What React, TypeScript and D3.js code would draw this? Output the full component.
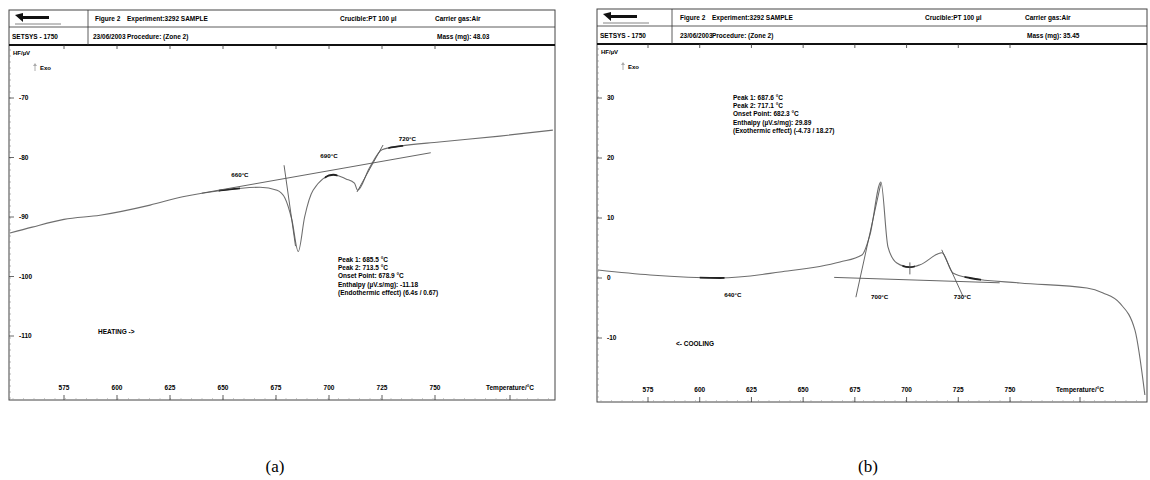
import React from "react";
import * as d3 from "d3";

// ---- Heating run (a) ----
const tempA = [549.5, 560, 575, 592, 615.6, 631, 650, 667.5, 675.5, 679.2, 682.5, 685.5, 688.5, 692.5, 702, 708, 712, 713.5, 719, 725, 733.5, 752, 780.6, 805.6];
const hfA = [-92.7, -91.7, -90.4, -89.7, -88.0, -86.6, -85.5, -85.0, -85.5, -86.8, -90.5, -95.8, -90.0, -85.5, -82.9, -83.6, -84.3, -85.5, -81.8, -78.7, -78.1, -77.4, -76.4, -75.4];
// tangent construction lines: [T1, HF1, T2, HF2]
const tangentsA = [
  [640, -86.0, 748, -79.2],
  [678.8, -81.3, 684.2, -94.9],
  [713.2, -85.8, 725.5, -77.9],
];
const eventLabelsA = [
  { text: "660°C", t: 658, hf: -83.3 },
  { text: "690°C", t: 700, hf: -80.0 },
  { text: "720°C", t: 737, hf: -77.2 },
];
const resultsA = [
  "Peak 1: 685.5 °C",
  "Peak 2: 713.5 °C",
  "Onset Point: 678.9 °C",
  "Enthalpy (µV.s/mg): -11.18",
  "(Endothermic effect) (6.4s / 0.67)",
];
const yTicksA = [-70, -80, -90, -100, -110];

// ---- Cooling run (b) ----
const tempB = [550.8, 576, 609.8, 638.8, 667.8, 678.4, 682.3, 687.6, 691, 695.3, 701.6, 706.5, 717.1, 722.4, 730.6, 754.8, 787.2, 795, 803.1, 810.4, 815.2];
const hfB = [1.33, 0.5, 0.0, 1.0, 2.67, 3.83, 7.2, 16.0, 5.2, 2.5, 1.8, 2.2, 4.2, 0.83, 0.0, -0.83, -1.67, -2.5, -4.2, -8.7, -19.5];
const tangentsB = [
  [665, 0.1, 745, -0.8],
  [675.5, -3.2, 687.6, 15.8],
  [717, 4.7, 727.2, -3.0],
  [701.6, 2.6, 701.6, 0.6],
];
const eventLabelsB = [
  { text: "640°C", t: 616, hf: -3.2 },
  { text: "700°C", t: 687, hf: -3.5 },
  { text: "730°C", t: 727, hf: -3.5 },
];
const resultsB = [
  "Peak 1: 687.6 °C",
  "Peak 2: 717.1 °C",
  "Onset Point: 682.3 °C",
  "Enthalpy (µV.s/mg): 29.89",
  "(Exothermic effect) (-4.73 / 18.27)",
];
const yTicksB = [30, 20, 10, 0, -10];

// shared
const xTicks = [575, 600, 625, 650, 675, 700, 725, 750];
const headerRow1 = ["Figure 2", "Experiment:3292 SAMPLE", "Crucible:PT 100 µl", "Carrier gas:Air"];
const headerRow2 = ["SETSYS - 1750", "23/06/2003", "Procedure: (Zone 2)"];
const massA = "Mass (mg): 48.03";
const massB = "Mass (mg): 35.45";

const FONT = "'Liberation Sans', Arial, sans-serif";

type PanelProps = {
  id: string;
  x0: number; x1: number; y0: number; y1: number;
  xRange: [number, number];
  yDomain: [number, number]; yRange: [number, number];
  sep: number;
  headerX: number[]; row2X: number[];
  temps: number[]; hf: number[];
  tangents: number[][];
  events: { text: string; t: number; hf: number }[];
  results: string[]; resultsPos: [number, number];
  yTicks: number[];
  mass: string;
  direction: string; dirPos: [number, number];
  highlights: [number, number][];
  tempLabelX: number;
};

function Panel(p: PanelProps) {
  const x = d3.scaleLinear().domain([575, 750]).range(p.xRange);
  const y = d3.scaleLinear().domain(p.yDomain).range(p.yRange);
  const pts = p.temps.map((t, i) => [t, p.hf[i]] as [number, number]);
  const line = d3
    .line<[number, number]>()
    .x((d) => x(d[0]))
    .y((d) => y(d[1]))
    .curve(d3.curveMonotoneX);
  const path = line(pts) || "";
  const hBottom = p.y0 + 35;
  const hMid = p.y0 + 17;
  const minor = d3.range(p.y0 + 40, p.y1, 6);
  const minorX = d3.range(p.x0 + 4, p.x1, 10.5);
  const fs = 6.5;
  return (
    <g fontFamily={FONT} fill="#000">
      <defs>
        <clipPath id={`clip-${p.id}`}>
          <rect x={p.x0} y={hBottom} width={p.x1 - p.x0} height={p.y1 - hBottom} />
        </clipPath>
        {p.highlights.map((h, i) => (
          <clipPath key={i} id={`hl-${p.id}-${i}`}>
            <rect x={x(h[0])} y={hBottom} width={x(h[1]) - x(h[0])} height={p.y1 - hBottom} />
          </clipPath>
        ))}
      </defs>
      {/* frame */}
      <rect x={p.x0} y={p.y0} width={p.x1 - p.x0} height={p.y1 - p.y0} fill="none" stroke="#444" strokeWidth={1} />
      <line x1={p.x0} x2={p.x1} y1={hMid} y2={hMid} stroke="#333" strokeWidth={0.8} />
      <line x1={p.x0} x2={p.x1} y1={hBottom} y2={hBottom} stroke="#111" strokeWidth={2.2} />
      <line x1={p.sep} x2={p.sep} y1={p.y0} y2={hBottom} stroke="#333" strokeWidth={0.8} />
      {/* logo */}
      <g>
        <path d={`M${p.x0 + 6},${p.y0 + 5} L${p.x0 + 14},${p.y0 + 3} L${p.x0 + 14},${p.y0 + 6} L${p.x0 + 40},${p.y0 + 6} L${p.x0 + 40},${p.y0 + 9} L${p.x0 + 14},${p.y0 + 9} L${p.x0 + 14},${p.y0 + 12} Z`} fill="#111" />
        <line x1={p.x0 + 6} x2={p.x0 + 52} y1={p.y0 + 14} y2={p.y0 + 14} stroke="#666" strokeWidth={0.8} />
      </g>
      <g fontSize={fs} fontWeight="bold" fill="#000">
        {headerRow1.map((t, i) => (
          <text key={i} x={p.headerX[i]} y={p.y0 + 11}>{t}</text>
        ))}
        {headerRow2.map((t, i) => (
          <text key={i} x={p.row2X[i]} y={hMid + 12}>{t}</text>
        ))}
        <text x={p.headerX[3] + 2} y={hMid + 12}>{p.mass}</text>
      </g>
      {/* top ruler ticks */}
      {xTicks.map((t) => (
        <line key={t} x1={x(t)} x2={x(t)} y1={hBottom} y2={hBottom + 4} stroke="#333" strokeWidth={0.8} />
      ))}
      {/* left ruler */}
      {minor.map((v) => (
        <line key={v} x1={p.x0} x2={p.x0 + 2} y1={v} y2={v} stroke="#888" strokeWidth={0.6} />
      ))}
      {p.yTicks.map((v) => (
        <g key={v}>
          <line x1={p.x0} x2={p.x0 + 5} y1={y(v)} y2={y(v)} stroke="#444" strokeWidth={0.8} />
          <text x={p.x0 + 10} y={y(v) + 2} fontSize={fs} fontWeight="bold">{v}</text>
        </g>
      ))}
      <text x={p.x0 + 4} y={hBottom + 10} fontSize={fs - 0.5} fontWeight="bold">HF/µV</text>
      <path d={`M${p.x0 + 26},${hBottom + 26} L${p.x0 + 26},${hBottom + 20}`} stroke="#999" strokeWidth={0.8} />
      <path d={`M${p.x0 + 24},${hBottom + 21} L${p.x0 + 26},${hBottom + 18} L${p.x0 + 28},${hBottom + 21} Z`} fill="#aaa" />
      <text x={p.x0 + 31} y={hBottom + 25} fontSize={fs - 0.5} fontWeight="bold">Exo</text>
      {/* bottom axis */}
      {minorX.map((v) => (
        <line key={v} x1={v} x2={v} y1={p.y1 - 2} y2={p.y1} stroke="#999" strokeWidth={0.5} />
      ))}
      {xTicks.map((t) => (
        <g key={t}>
          <line x1={x(t)} x2={x(t)} y1={p.y1 - 5} y2={p.y1} stroke="#333" strokeWidth={0.8} />
          <text x={x(t)} y={p.y1 - 10} fontSize={fs} fontWeight="bold" textAnchor="middle">{t}</text>
        </g>
      ))}
      <line x1={p.tempLabelX} x2={p.tempLabelX} y1={p.y1 - 5} y2={p.y1} stroke="#333" strokeWidth={0.8} />
      <text x={p.tempLabelX} y={p.y1 - 10} fontSize={fs} fontWeight="bold" textAnchor="middle">Temperature/°C</text>
      {/* curve and construction lines */}
      <g clipPath={`url(#clip-${p.id})`}>
        <path d={path} fill="none" stroke="#6e6e6e" strokeWidth={1.1} />
        {p.highlights.map((h, i) => (
          <path key={i} d={path} fill="none" stroke="#222" strokeWidth={1.8} clipPath={`url(#hl-${p.id}-${i})`} />
        ))}
        {p.tangents.map((l, i) => (
          <line key={i} x1={x(l[0])} y1={y(l[1])} x2={x(l[2])} y2={y(l[3])} stroke="#555" strokeWidth={0.9} />
        ))}
      </g>
      <g fontSize={fs - 0.3} fontWeight="bold">
        {p.events.map((e, i) => (
          <text key={i} x={x(e.t)} y={y(e.hf)} textAnchor="middle">{e.text}</text>
        ))}
      </g>
      <g fontSize={fs} fontWeight="bold">
        {p.results.map((r, i) => (
          <text key={i} x={p.resultsPos[0]} y={p.resultsPos[1] + i * 8.2}>{r}</text>
        ))}
      </g>
      <text x={p.dirPos[0]} y={p.dirPos[1]} fontSize={fs} fontWeight="bold">{p.direction}</text>
    </g>
  );
}

export default function App() {
  return (
    <svg width={1150} height={480} style={{ position: "absolute", left: 0, top: 0, background: "#fff" }}>
      <rect width={1150} height={480} fill="#fff" />
      <Panel
        id="a"
        x0={9} x1={555} y0={10} y1={400}
        xRange={[64, 435]}
        yDomain={[-70, -110]} yRange={[98, 336]}
        sep={88}
        headerX={[95, 127, 340, 435]}
        row2X={[12, 93, 127]}
        temps={tempA} hf={hfA}
        tangents={tangentsA}
        events={eventLabelsA}
        results={resultsA} resultsPos={[338, 262]}
        yTicks={yTicksA}
        mass={massA}
        direction="HEATING ->" dirPos={[98, 334]}
        highlights={[[648, 658], [698, 704], [728, 735]]}
        tempLabelX={510}
      />
      <Panel
        id="b"
        x0={597} x1={1147} y0={9} y1={402}
        xRange={[648, 1010]}
        yDomain={[30, -10]} yRange={[98, 338]}
        sep={672}
        headerX={[680, 712, 925, 1025]}
        row2X={[600, 680, 712]}
        temps={tempB} hf={hfB}
        tangents={tangentsB}
        events={eventLabelsB}
        results={resultsB} resultsPos={[733, 100]}
        yTicks={yTicksB}
        mass={massB}
        direction="<- COOLING" dirPos={[676, 346]}
        highlights={[[600, 612], [698, 704], [728, 736]]}
        tempLabelX={1080}
      />
      <g fontFamily="'Liberation Serif', 'Times New Roman', serif" fontSize={17}>
        <text x={275} y={472} textAnchor="middle">(a)</text>
        <text x={868} y={472} textAnchor="middle">(b)</text>
      </g>
    </svg>
  );
}
